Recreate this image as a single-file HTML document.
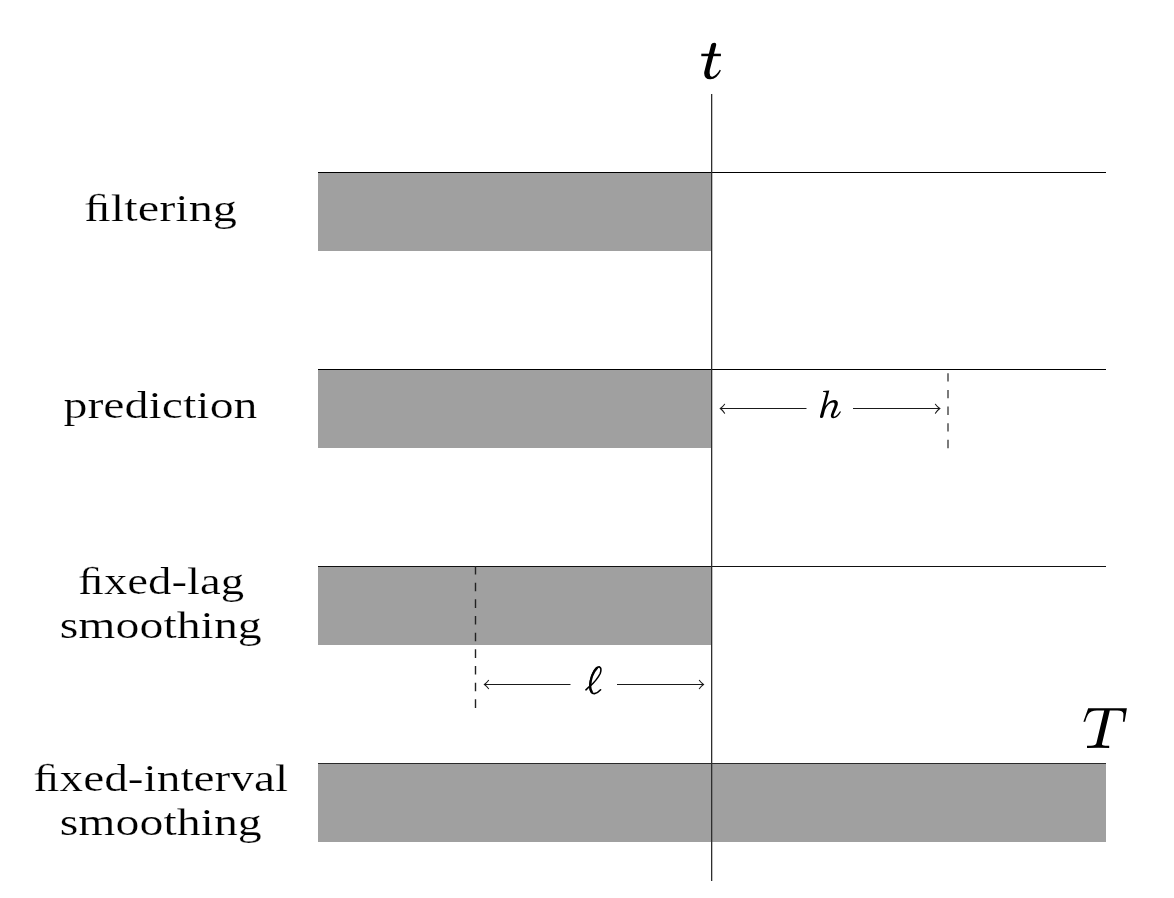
<!DOCTYPE html>
<html>
<head>
<meta charset="utf-8">
<style>
html,body{margin:0;padding:0;background:#fff;width:1174px;height:898px;overflow:hidden}
svg{position:absolute;left:0;top:0;display:block}
text{font-family:"Liberation Serif",serif;fill:#000;stroke:#fff;stroke-width:0.2px}
svg{will-change:transform}
</style>
</head>
<body>
<svg width="1174" height="898" viewBox="0 0 1174 898">
  <!-- gray bars -->
  <rect x="318" y="172" width="393.5" height="79" fill="#a0a0a0"/>
  <rect x="318" y="369" width="393.5" height="79" fill="#a0a0a0"/>
  <rect x="318" y="566" width="393.5" height="79" fill="#a0a0a0"/>
  <rect x="318" y="763" width="788" height="79" fill="#a0a0a0"/>

  <!-- horizontal lines -->
  <rect x="318" y="172" width="788" height="1" fill="#000"/>
  <rect x="318" y="369" width="788" height="1" fill="#000"/>
  <rect x="318" y="566" width="788" height="1" fill="#111"/>
  <rect x="318" y="763" width="788" height="1" fill="#2a2a2a"/>

  <!-- vertical t line -->
  <rect x="711" y="94" width="1.3" height="787" fill="#2e2e2e"/>

  <!-- labels -->
  <text x="160.5" y="221" font-size="38" text-anchor="middle" textLength="153" lengthAdjust="spacingAndGlyphs">ﬁltering</text>
  <text x="160.5" y="418" font-size="38" text-anchor="middle" textLength="194" lengthAdjust="spacingAndGlyphs">prediction</text>
  <text x="161" y="594" font-size="38" text-anchor="middle" textLength="166" lengthAdjust="spacingAndGlyphs">ﬁxed-lag</text>
  <text x="160.75" y="638" font-size="38" text-anchor="middle" textLength="202" lengthAdjust="spacingAndGlyphs">smoothing</text>
  <text x="160.65" y="791" font-size="38" text-anchor="middle" textLength="255" lengthAdjust="spacingAndGlyphs">ﬁxed-interval</text>
  <text x="160.75" y="834.5" font-size="38" text-anchor="middle" textLength="202" lengthAdjust="spacingAndGlyphs">smoothing</text>

  <!-- t glyph -->
  <path fill="#000" d="M711.2 44.6 Q712 42.6 714.3 42.7 Q716.7 43 716.1 45.4 L709.8 70 Q709.2 73.5 710.2 75.8 Q711.4 77.2 713 76.6 Q716.8 75 719.8 69.8 L720.9 70.4 Q716.6 79.6 710 79.3 Q704.4 79 704.2 73.4 Q704.2 71.5 704.9 69.4 Z"/>
  <rect x="701.3" y="53.7" width="19.6" height="2.5" fill="#000"/>

  <!-- T glyph -->
  <path fill="#000" d="M1088.2 708.3 L1126.9 708.3 L1124.6 721.8 L1122.9 721.8 Q1123.6 716 1123.4 713.5 Q1122.8 710.6 1117.5 710.6 L1109.8 710.6 L1101.9 744.2 Q1102 745.6 1105.5 745.7 L1109.2 745.7 L1109.2 748 Q1104 747.7 1098.5 747.7 Q1092.5 747.7 1087 748 L1087 745.7 L1091 745.7 Q1095.8 745.6 1096.4 743.3 L1104.2 710.6 L1097 710.6 Q1090.5 710.6 1088 714.5 Q1086.5 717 1085.2 721.8 L1083.4 721.8 Z"/>

  <!-- h glyph -->
  <path fill="#000" d="M823 391.1 L829.3 390.6 L825.4 406 Q829.5 400 834 400 Q838.4 400.2 837.8 404.5 Q837.3 407 834 414 Q833 416.5 834 416.7 Q836.5 416.5 840 411.3 L841 411.8 Q837.5 418.3 833.3 418.2 Q830.2 418 831 414.5 Q831.6 412.5 834.2 406.3 Q835.4 402.6 833 402.4 Q828 402.5 825 410 L823.2 417 Q822.4 418.2 821 418 Q819.6 417.6 820 416.2 L826.3 392.4 Q826.3 391.9 823.2 392 Z"/>

  <!-- ell glyph -->
  <path fill="none" stroke="#000" stroke-width="1.6" stroke-linecap="round" d="M585.9 689.8 Q588.5 687.5 590 686.2 Q597 680 600.2 673.5 Q602 668 599.5 666.9 Q596 666.3 592.8 673.5 Q589.8 680.5 589.8 686 Q590 693.8 594.5 693.6 Q597.5 693.3 600.6 689.8"/>
  <path fill="none" stroke="#000" stroke-width="2.3" stroke-linecap="round" d="M597 668 Q594 671 592 676 Q590.3 681 590.2 686.5 Q590.4 690 591.8 692"/>

  <!-- h row arrows -->
  <rect x="720" y="408" width="86.5" height="1" fill="#1a1a1a"/>
  <rect x="853" y="408" width="87" height="1" fill="#1a1a1a"/>
  <path fill="none" stroke="#1a1a1a" stroke-width="1.05" stroke-linecap="round" d="M724.6 404.2 Q722.6 407 720.3 408.5 Q722.6 410 724.6 413.3"/>
  <path fill="none" stroke="#1a1a1a" stroke-width="1.05" stroke-linecap="round" d="M935.4 404.2 Q937.4 407 939.8 408.5 Q937.4 410 935.4 413.3"/>

  <!-- ell row arrows -->
  <rect x="484" y="684" width="86.5" height="1" fill="#1a1a1a"/>
  <rect x="617" y="684" width="87" height="1" fill="#1a1a1a"/>
  <path fill="none" stroke="#1a1a1a" stroke-width="1.05" stroke-linecap="round" d="M488.6 680.3 Q486.7 682.9 484.4 684.5 Q486.7 686.1 488.6 688.7"/>
  <path fill="none" stroke="#1a1a1a" stroke-width="1.05" stroke-linecap="round" d="M699.3 680.3 Q701.2 682.9 703.5 684.5 Q701.2 686.1 699.3 688.7"/>

  <!-- dashed lines -->
  <path fill="none" stroke="#444" stroke-width="1.4" stroke-dasharray="8.33 8.33" d="M948 448.2 L948 369"/>
  <path fill="none" stroke="#222" stroke-width="1.4" stroke-dasharray="8.6 8.07" d="M475.5 566 L475.5 708"/>
</svg>
</body>
</html>
